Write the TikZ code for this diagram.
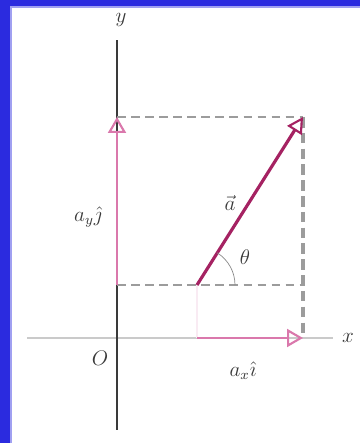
\documentclass[tikz,border=0pt]{standalone}
\usepackage{amsmath,amssymb}
\usepackage{tikz}
\usetikzlibrary{arrows.meta,calc}
\definecolor{INK}{HTML}{3A3A3A}
\definecolor{FRAME}{HTML}{2B2BDF}
\definecolor{PINK}{HTML}{DA78AC}
\definecolor{MAG}{HTML}{A52262}
\definecolor{GRAYL}{HTML}{CACACA}
\definecolor{DSH}{HTML}{9C9C9C}
\begin{document}
\begin{tikzpicture}[x=0.02cm,y=0.02cm]
\tikzset{axisline/.style={INK,thick},xaxisline/.style={GRAYL,line width=1.6pt},
 dshl/.style={DSH,thick,dash pattern=on 5pt off 3pt},dshv/.style={DSH,line width=2.2pt,dash pattern=on 6pt off 3pt},
 comp/.style={PINK,line width=1.3pt,-{Triangle[open,length=3.2mm,width=3.6mm,line width=1.2pt]}},
 vec/.style={MAG,line width=1.8pt,-{Triangle[open,length=3.2mm,width=3.4mm,line width=1.2pt]}},
 lbl/.style={font=\large,text=INK,inner sep=1pt}}
\useasboundingbox (0,0) rectangle (360,443);
\fill[white] (0,0) rectangle (360,443);
\fill[FRAME] (0,0) rectangle (10,443);
\fill[FRAME] (0,437) rectangle (360,443);
\fill[FRAME!45] (10,0) rectangle (12,437);
\fill[FRAME!45] (10,435) rectangle (360,437);
\coordinate (O) at (117,105);
\coordinate (Ytop) at (117,403);\coordinate (Ybot) at (117,13);
\coordinate (Xl) at (27,105);\coordinate (Xr) at (333,105);
\coordinate (Ay) at (117,326);\coordinate (P) at (303,326);
\coordinate (Q) at (197,158);\coordinate (Qy) at (117,158);
\coordinate (Qx) at (197,105);\coordinate (Px) at (303,105);
\draw[xaxisline] (Xl) -- (Xr);
\draw[axisline] (Ybot) -- (Ytop);
\draw[dshl] (Ay) -- (P);
\draw[dshl] (Qy) -- (P |- Qy);
\draw[dshv] (P) -- (Px);
\draw[PINK!15,thick] (Q) -- (Qx);
\draw[comp] (Qy) -- (Ay);
\draw[comp] (Qx) -- (Px);
\draw[vec] (Q) -- (P);
\draw[INK!60,thin] ($(Q)+(38,0)$) arc[start angle=0,end angle=58,radius=38];
\node[lbl] (ylab) at (121,423) {$y$};
\node[lbl] (xlab) at (348,105) {$x$};
\node[lbl] (olab) at (100,85) {$O$};
\node[lbl] (aylab) at (88,226) {$a_y\hat{\jmath}$};
\node[lbl] (axlab) at (243,72) {$a_x\hat{\imath}$};
\node[lbl] (alab) at (230,240) {$\vec{a}$};
\node[lbl] (thlab) at (245,186) {$\theta$};
\end{tikzpicture}
\end{document}
